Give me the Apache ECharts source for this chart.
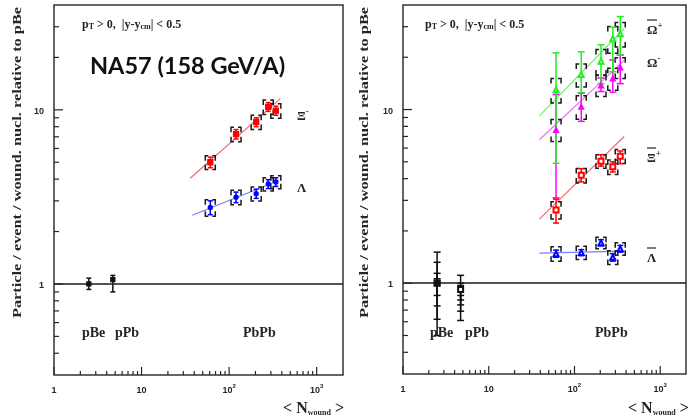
<!DOCTYPE html>
<html><head><meta charset="utf-8">
<script src="https://cdn.jsdelivr.net/npm/echarts@6/dist/echarts.min.js"></script>
<style>html,body{margin:0;padding:0;background:#fff}#c{width:689px;height:420px}</style>
</head><body><div id="c"></div>
<script>
// ---------------- data ----------------
const nPbPb = [61, 120, 204, 280, 342];
const nPBe = 2.5, nPPb = 4.7;

// left panel: Xi- and Lambda
const xiMinus     = [5.0, 7.25, 8.5, 10.4, 9.9];
const xiMinusStat = [0.35, 0.45, 0.5, 0.6, 0.6];
const xiMinusSys  = [0.45, 0.7, 0.8, 1.0, 0.95];
const lambda      = [2.75, 3.15, 3.3, 3.75, 3.85];
const lambdaStat  = [0.25, 0.22, 0.2, 0.22, 0.22];
const lambdaSys   = [0.3, 0.3, 0.3, 0.33, 0.33];
const xiMinusFit  = [[36, 4.05], [385, 11.6]];
const lambdaFit   = [[38, 2.48], [370, 3.93]];
const leftPBe = [1.0];  const leftPBeLo = [0.93]; const leftPBeHi = [1.08];
const leftPPb = [1.06]; const leftPPbLo = [0.90]; const leftPPbHi = [1.12];

// right panel: anti-Omega+, Omega-, anti-Xi+, anti-Lambda
const omegaBarPlus    = [13.0, 15.9, 19.0, 25.6, 27.3];
const omegaBarPlusLo  = [4.9, 12.5, 14.1, 16.5, 20.6];
const omegaBarPlusHi  = [21.2, 21.5, 23.6, 29.8, 34.3];
const omegaBarPlusSys = [2.1, 2.4, 3.2, 4.5, 4.4];
const omegaMinus      = [7.65, 10.4, 13.8, 15.1, 17.5];
const omegaMinusLo    = [3.1, 8.55, 12.7, 12.6, 14.1];
const omegaMinusHi    = [12.2, 12.4, 15.2, 19.3, 20.6];
const omegaMinusSys   = [1.1, 1.6, 1.9, 2.2, 2.4];
const xiPlus          = [2.64, 4.18, 5.04, 4.68, 5.39];
const xiPlusLo        = [2.22, 3.83, 4.72, 4.37, 4.88];
const xiPlusHi        = [3.05, 4.57, 5.5, 5.0, 5.77];
const xiPlusSys       = [0.3, 0.4, 0.45, 0.45, 0.5];
const lambdaBar       = [1.48, 1.5, 1.71, 1.41, 1.58];
const lambdaBarStat   = [0.07, 0.06, 0.07, 0.07, 0.07];
const lambdaBarSys    = [0.14, 0.13, 0.13, 0.13, 0.13];
const omegaBarPlusFit = [[39, 9.2], [380, 29.2]];
const omegaMinusFit   = [[39, 6.7], [380, 19.2]];
const xiPlusFit       = [[39, 2.34], [380, 7.0]];
const lambdaBarFit    = [[39, 1.49], [380, 1.53]];
const rightPBe = [1.0];  const rightPBeLo = [0.50, 0.62, 0.74, 0.85]; const rightPBeHi = [1.51, 1.32, 1.14, 1.06];
const rightPPb = [0.92]; const rightPPbLo = [0.61, 0.69, 0.75, 0.80]; const rightPPbHi = [1.11, 1.0, 0.97, 0.85];

// axes
const xMin = 1, xMax = 2000, yMin = 0.3, yMax = 40;
const xTickValues = [1, 10, 100, 1000];
const xTickLabels = ['1', '10', '10^2', '10^3'];
const yTickValues = [1, 10];
const yTickLabels = ['1', '10'];
const xMinorTicks = [2,3,4,5,6,7,8,9,20,30,40,50,60,70,80,90,200,300,400,500,600,700,800,900];
const yMinorTicks = [0.4,0.5,0.6,0.7,0.8,0.9,2,3,4,5,6,7,8,9,20,30];

// ---------------- helpers ----------------
const INK = '#262626';
function pts(xs, ys) { return xs.map((x, i) => [x, ys[i]]); }
function range(xs, lo, hi) { return xs.map((x, i) => [x, lo[i], hi[i]]); }
function symErr(xs, v, e) { return xs.map((x, i) => [x, v[i] - e[i], v[i] + e[i]]); }

function errSeries(g, data, color, cap) {
  return {
    type: 'custom', xAxisIndex: g, yAxisIndex: g, silent: true, z: 4,
    data: data, encode: { x: 0, y: [1, 2] },
    renderItem: function (p, api) {
      const x = api.value(0);
      const a = api.coord([x, api.value(1)]);
      const b = api.coord([x, api.value(2)]);
      const st = { stroke: color, lineWidth: 1.5 };
      return { type: 'group', children: [
        { type: 'line', shape: { x1: a[0], y1: a[1], x2: b[0], y2: b[1] }, style: st },
        { type: 'line', shape: { x1: a[0] - cap, y1: a[1], x2: a[0] + cap, y2: a[1] }, style: st },
        { type: 'line', shape: { x1: b[0] - cap, y1: b[1], x2: b[0] + cap, y2: b[1] }, style: st }
      ]};
    }
  };
}
function bracketSeries(g, data) {
  return {
    type: 'custom', xAxisIndex: g, yAxisIndex: g, silent: true, z: 3,
    data: data, encode: { x: 0, y: [1, 2] },
    renderItem: function (p, api) {
      const x = api.value(0);
      const lo = api.coord([x, api.value(1)]);
      const hi = api.coord([x, api.value(2)]);
      const cx = lo[0], w = 5, h = 3;
      const v = Math.min(5, (lo[1] - hi[1]) / 2);
      const st = { stroke: '#1a1a1a', lineWidth: 1.5, fill: null };
      const ch = [];
      [-1, 1].forEach(function (s) {
        const ex = cx + s * w, ix = cx + s * (w - h);
        ch.push({ type: 'polyline', shape: { points: [[ix, hi[1]], [ex, hi[1]], [ex, hi[1] + v]] }, style: st });
        ch.push({ type: 'polyline', shape: { points: [[ix, lo[1]], [ex, lo[1]], [ex, lo[1] - v]] }, style: st });
      });
      return { type: 'group', children: ch };
    }
  };
}
function markerSeries(g, data, symbol, color, size) {
  return { type: 'scatter', xAxisIndex: g, yAxisIndex: g, silent: true, z: 5,
    data: data, symbol: symbol, symbolSize: size,
    itemStyle: { color: color, borderColor: color, borderWidth: 1.3, opacity: 1 } };
}
function fitSeries(g, data, color) {
  return { type: 'line', xAxisIndex: g, yAxisIndex: g, silent: true, z: 2,
    data: data, symbol: 'none', lineStyle: { color: color, width: 1.2 } };
}
function xTicks(g, vals, len) {
  return { type: 'custom', xAxisIndex: g, yAxisIndex: g, silent: true, z: 6,
    data: vals.map(v => [v, yMin]), encode: { x: 0, y: 1 },
    renderItem: function (p, api) {
      const c = api.coord([api.value(0), api.value(1)]);
      return { type: 'line', shape: { x1: c[0], y1: c[1], x2: c[0], y2: c[1] - len }, style: { stroke: INK, lineWidth: 1.2 } };
    } };
}
function yTicks(g, vals, len) {
  return { type: 'custom', xAxisIndex: g, yAxisIndex: g, silent: true, z: 6,
    data: vals.map(v => [xMin, v]), encode: { x: 0, y: 1 },
    renderItem: function (p, api) {
      const c = api.coord([api.value(0), api.value(1)]);
      return { type: 'line', shape: { x1: c[0], y1: c[1], x2: c[0] + len, y2: c[1] }, style: { stroke: INK, lineWidth: 1.2 } };
    } };
}
function unityLine(g) {
  return { type: 'line', xAxisIndex: g, yAxisIndex: g, silent: true, data: [], z: 2,
    markLine: { silent: true, symbol: 'none', label: { show: false },
      lineStyle: { color: '#1a1a1a', width: 1.5, type: 'solid' },
      data: [{ yAxis: 1 }] } };
}
function labelFor(values, labels) {
  return function (v) {
    for (let i = 0; i < values.length; i++) {
      if (Math.abs(Math.log10(v) - Math.log10(values[i])) < 1e-6) {
        const s = labels[i].split('^');
        return s.length > 1 ? '{b|' + s[0] + '}{s|' + s[1] + '}' : '{b|' + s[0] + '}';
      }
    }
    return '';
  };
}
const lblRich = {
  b: { fontSize: 9, fontWeight: 'bold', fontFamily: 'Liberation Sans', color: INK, lineHeight: 12, verticalAlign: 'bottom' },
  s: { fontSize: 6, fontWeight: 'bold', fontFamily: 'Liberation Sans', color: INK, lineHeight: 12, verticalAlign: 'top' }
};
function xAxisCfg(g) {
  return { type: 'log', gridIndex: g, min: xMin, max: xMax, logBase: 10,
    axisLine: { show: false }, axisTick: { show: false }, splitLine: { show: false },
    axisLabel: { margin: 8, formatter: labelFor(xTickValues, xTickLabels), rich: lblRich, hideOverlap: false, interval: 0 } };
}
function yAxisCfg(g) {
  return { type: 'log', gridIndex: g, min: yMin, max: yMax, logBase: 10,
    axisLine: { show: false }, axisTick: { show: false }, splitLine: { show: false },
    axisLabel: { margin: 10, formatter: labelFor(yTickValues, yTickLabels), rich: lblRich, hideOverlap: false, interval: 0 } };
}

// ---------------- series ----------------
const series = [];
[0, 1].forEach(function (g) {
  series.push(xTicks(g, xMinorTicks, 4), xTicks(g, xTickValues, 8));
  series.push(yTicks(g, yMinorTicks, 5), yTicks(g, yTickValues, 9));
  series.push(unityLine(g));
});
// left
series.push(fitSeries(0, xiMinusFit, '#f26b6b'), fitSeries(0, lambdaFit, '#7b7bff'));
series.push(bracketSeries(0, symErr(nPbPb, xiMinus, xiMinusSys)), bracketSeries(0, symErr(nPbPb, lambda, lambdaSys)));
series.push(errSeries(0, symErr(nPbPb, xiMinus, xiMinusStat), '#ff0000', 2.5), errSeries(0, symErr(nPbPb, lambda, lambdaStat), '#0000ff', 2.5));
series.push(markerSeries(0, pts(nPbPb, xiMinus), 'rect', '#ff0000', 5), markerSeries(0, pts(nPbPb, lambda), 'circle', '#0000ff', 4));
series.push(errSeries(0, range([nPBe], leftPBeLo, leftPBeHi), '#111', 2.5), errSeries(0, range([nPPb], leftPPbLo, leftPPbHi), '#111', 2.5));
series.push(markerSeries(0, pts([nPBe], leftPBe), 'rect', '#111', 4), markerSeries(0, pts([nPPb], leftPPb), 'rect', '#111', 4));
// right
series.push(fitSeries(1, omegaBarPlusFit, '#6cf06c'), fitSeries(1, omegaMinusFit, '#f070f0'),
            fitSeries(1, xiPlusFit, '#f26b6b'), fitSeries(1, lambdaBarFit, '#7b7bff'));
series.push(bracketSeries(1, symErr(nPbPb, omegaBarPlus, omegaBarPlusSys)), bracketSeries(1, symErr(nPbPb, omegaMinus, omegaMinusSys)),
            bracketSeries(1, symErr(nPbPb, xiPlus, xiPlusSys)), bracketSeries(1, symErr(nPbPb, lambdaBar, lambdaBarSys)));
series.push(errSeries(1, range(nPbPb, omegaMinusLo, omegaMinusHi), '#ff00ff', 3.5),
            errSeries(1, range(nPbPb, omegaBarPlusLo, omegaBarPlusHi), '#22ee22', 3.5),
            errSeries(1, range(nPbPb, xiPlusLo, xiPlusHi), '#ff0000', 3),
            errSeries(1, symErr(nPbPb, lambdaBar, lambdaBarStat), '#0000ff', 3));
series.push(markerSeries(1, pts(nPbPb, omegaBarPlus), 'emptyTriangle', '#22ee22', 5),
            markerSeries(1, pts(nPbPb, omegaMinus), 'triangle', '#ff00ff', 5),
            markerSeries(1, pts(nPbPb, xiPlus), 'emptyRect', '#ff0000', 5),
            markerSeries(1, pts(nPbPb, lambdaBar), 'emptyTriangle', '#0000ff', 5));
series.push(errSeries(1, rightPBeLo.map((lo, i) => [nPBe, lo, rightPBeHi[i]]), '#111', 3.5),
            errSeries(1, rightPPbLo.map((lo, i) => [nPPb, lo, rightPPbHi[i]]), '#111', 3.5));
series.push(markerSeries(1, pts([nPBe], rightPBe), 'rect', '#111', 6), markerSeries(1, pts([nPPb], rightPPb), 'emptyRect', '#111', 5));

// ---------------- annotations ----------------
const SERIF = 'Liberation Serif';
function txt(x, y, text, size, opts) {
  return Object.assign({ type: 'text', x: x, y: y, silent: true, z: 20,
    style: { text: text, fill: INK, fontFamily: SERIF, fontWeight: 'bold', fontSize: size, align: 'left', verticalAlign: 'middle' } }, opts || {});
}
function rtxt(x, y, text, rich, align) {
  return { type: 'text', x: x, y: y, silent: true, z: 20,
    style: { text: text, rich: rich, align: align || 'left', verticalAlign: 'middle' } };
}
function overline(x, y, w) {
  return { type: 'line', silent: true, z: 20, shape: { x1: x, y1: y, x2: x + w, y2: y }, style: { stroke: INK, lineWidth: 1.2 } };
}
const kinRich = {
  n: { fontFamily: SERIF, fontWeight: 'bold', fontSize: 12, fill: INK, lineHeight: 15, verticalAlign: 'bottom' },
  sub: { fontFamily: SERIF, fontWeight: 'bold', fontSize: 8, fill: INK, lineHeight: 12, verticalAlign: 'bottom' }
};
const kinText = '{n|p}{sub|T}{n| > 0,  |y-y}{sub|cm}{n|| < 0.5}';
const nwRich = {
  n: { fontFamily: SERIF, fontWeight: 'bold', fontSize: 16, fill: INK, lineHeight: 18, verticalAlign: 'bottom' },
  sub: { fontFamily: SERIF, fontWeight: 'bold', fontSize: 8, fill: INK, lineHeight: 13, verticalAlign: 'bottom' }
};
const nwText = '{n|< N}{sub|wound}{n| >}';
const pRich = {
  n: { fontFamily: SERIF, fontWeight: 'bold', fontSize: 13, fill: INK, lineHeight: 16, verticalAlign: 'bottom' },
  sup: { fontFamily: SERIF, fontWeight: 'bold', fontSize: 9, fill: INK, lineHeight: 16, verticalAlign: 'top' }
};
const yTitle = 'Particle / event / wound. nucl. relative to pBe';
const yFont = 'bold 13px "Liberation Serif"';
const ctx = document.createElement('canvas').getContext('2d');
ctx.font = yFont;
const yScale = 311 / ctx.measureText(yTitle).width;
function yTitleEl(x) {
  return { type: 'text', x: x, y: 7, rotation: Math.PI / 2, scaleX: yScale, silent: true, z: 20,
    style: { text: yTitle, fill: INK, fontFamily: SERIF, fontWeight: 'bold', fontSize: 13, align: 'right', verticalAlign: 'middle' } };
}
const graphic = [
  yTitleEl(18), yTitleEl(365),
  rtxt(82, 23, kinText, kinRich), rtxt(425, 23, kinText, kinRich),
  { type: 'text', x: 90, y: 66, silent: true, z: 20,
    style: { text: 'NA57 (158 GeV/A)', fill: '#111', fontFamily: 'Lato', fontWeight: 'bold', fontSize: 23.5, align: 'left', verticalAlign: 'middle' } },
  rtxt(297, 115, '{n|Ξ}{sup|-}', pRich), rtxt(297, 187, '{n|Λ}', pRich),
  rtxt(647, 29, '{n|Ω}{sup|+}', pRich), overline(647, 20, 10),
  rtxt(647, 62, '{n|Ω}{sup|-}', pRich),
  rtxt(647, 157, '{n|Ξ}{sup|+}', pRich), overline(647, 148, 9),
  rtxt(647, 257, '{n|Λ}', pRich), overline(647, 248, 9),
  txt(82, 333, 'pBe', 14), txt(115, 333, 'pPb', 14), txt(243, 333, 'PbPb', 14),
  txt(430, 333, 'pBe', 14), txt(465, 333, 'pPb', 14), txt(595, 333, 'PbPb', 14),
  rtxt(344, 408, nwText, nwRich, 'right'), rtxt(628, 408, nwText, nwRich, 'left')
];

const chart = echarts.init(document.getElementById('c'), null, { renderer: 'canvas' });
chart.setOption({
  animation: false,
  backgroundColor: '#ffffff',
  grid: [
    { left: 54, top: 5, width: 289, height: 370, show: true, borderColor: '#333', borderWidth: 1.5, backgroundColor: 'transparent' },
    { left: 403, top: 5, width: 290, height: 369, show: true, borderColor: '#333', borderWidth: 1.5, backgroundColor: 'transparent' }
  ],
  xAxis: [xAxisCfg(0), xAxisCfg(1)],
  yAxis: [yAxisCfg(0), yAxisCfg(1)],
  series: series,
  graphic: graphic
});
</script></body></html>
